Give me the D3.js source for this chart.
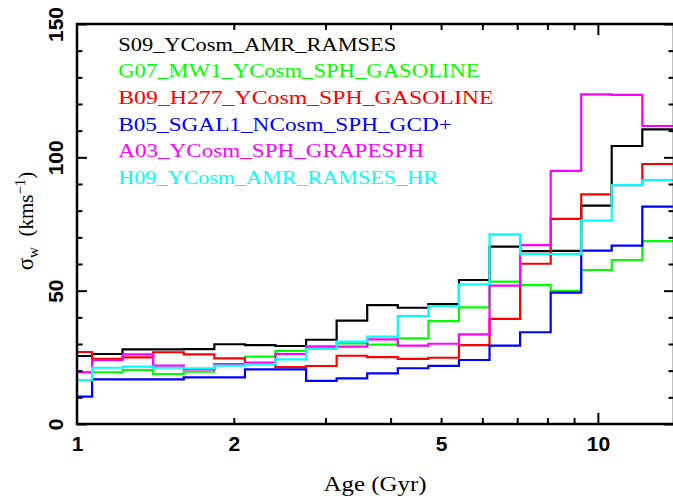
<!DOCTYPE html>
<html><head><meta charset="utf-8">
<script src="https://cdn.jsdelivr.net/npm/d3@7/dist/d3.min.js"></script>
<style>body{margin:0;background:#fff}svg{display:block}</style>
</head><body>
<svg id="c" width="673" height="500"></svg>
<script>
// Bin edges (Gyr), equal log-width bins
const edges = [0.934,1.069,1.223,1.400,1.603,1.835,2.101,2.404,2.753,3.151,3.607,4.129,4.727,5.411,6.194,7.091,8.117,9.290,10.63,12.17,13.93];

const seriesNames = ["S09_YCosm_AMR_RAMSES","G07_MW1_YCosm_SPH_GASOLINE","B09_H277_YCosm_SPH_GASOLINE","B05_SGAL1_NCosm_SPH_GCD+","A03_YCosm_SPH_GRAPESPH","H09_YCosm_AMR_RAMSES_HR"];
const seriesColors = ["#000000","#00ff00","#ff0000","#0000ff","#ff00ff","#00ffff"];

const s09 = [25.5,26.25,28.0,28.0,28.1,29.9,29.6,29.25,31.6,38.8,44.6,43.6,45.0,54.0,66.5,64.8,64.9,81.9,104.25,110.5];
const g07 = [19.4,19.4,20.25,18.75,19.6,22.3,25.25,27.4,29.0,30.25,29.8,32.1,38.6,43.75,53.4,52.1,49.9,57.75,61.5,68.6];
const b09 = [27.0,24.4,25.0,26.9,26.1,24.6,22.75,21.3,21.75,25.6,25.1,24.4,24.85,29.6,39.4,60.1,76.9,86.1,89.6,97.5];
const b05 = [10.25,16.75,16.75,16.75,17.5,17.5,20.5,20.5,16.2,17.1,19.0,20.9,21.8,24.0,29.4,34.4,49.25,65.0,66.9,81.5];
const a03 = [19.4,24.0,26.1,21.9,20.5,22.5,23.0,26.25,29.0,29.0,31.75,29.4,30.1,33.6,51.9,67.1,94.9,123.6,123.4,111.75];
const h09 = [16.5,21.1,21.5,21.1,20.9,21.9,22.4,24.25,28.2,30.9,32.75,40.5,44.25,52.4,71.1,63.75,63.75,76.25,89.6,91.5];
const seriesValues = [s09,g07,b09,b05,a03,h09];

const xTickLabels = [1,2,5,10];
const xMinorTicks = [2,3,4,5,6,7,8,9];
const xMajorTicks = [10];
const yTickLabels = [0,50,100,150];
const yMinorTicks = [10,20,30,40,60,70,80,90,110,120,130,140];
const legendY = [140,130,120,110,100,90];
const legendX = 1.2;

const m = {l:77, r:674, t:24, b:424};
const x = d3.scaleLog().domain([1,14]).range([m.l,m.r]);
const y = d3.scaleLinear().domain([0,150]).range([m.b,m.t]);
const svg = d3.select('#c');

svg.append('defs').append('clipPath').attr('id','clip')
  .append('rect').attr('x',m.l).attr('y',m.t).attr('width',m.r-m.l).attr('height',m.b-m.t);

// histograms
const line = d3.line().x(d=>x(d[0])).y(d=>y(d[1])).curve(d3.curveStepAfter);
seriesValues.forEach((vals,k)=>{
  const pts = vals.map((v,i)=>[edges[i],v]);
  pts.push([edges[vals.length], vals[vals.length-1]]);
  svg.append('path').attr('d',line(pts)).attr('fill','none')
    .attr('stroke',seriesColors[k]).attr('stroke-width',2.2)
    .attr('stroke-linejoin','miter').attr('clip-path','url(#clip)');
});

// ticks
function tickAxis(gen, pos, vals, size){
  const g = svg.append('g').attr('transform',pos)
    .call(gen.tickValues(vals).tickSize(-size).tickFormat(''));
  g.select('.domain').remove();
  g.selectAll('line').attr('stroke','#000').attr('stroke-width',2);
  return g;
}
tickAxis(d3.axisBottom(x), `translate(0,${m.b})`, xMinorTicks, 6);
tickAxis(d3.axisBottom(x), `translate(0,${m.b})`, xMajorTicks, 11);
tickAxis(d3.axisTop(x), `translate(0,${m.t})`, xMinorTicks, 6);
tickAxis(d3.axisTop(x), `translate(0,${m.t})`, xMajorTicks, 11);
tickAxis(d3.axisLeft(y), `translate(${m.l},0)`, yMinorTicks, 5.5);
tickAxis(d3.axisLeft(y), `translate(${m.l},0)`, yTickLabels, 10);
tickAxis(d3.axisRight(y), `translate(${m.r},0)`, yMinorTicks, 5.5);
tickAxis(d3.axisRight(y), `translate(${m.r},0)`, yTickLabels, 10);

// frame
svg.append('rect').attr('x',m.l).attr('y',m.t).attr('width',m.r-m.l).attr('height',m.b-m.t)
  .attr('fill','none').attr('stroke','#000').attr('stroke-width',2.5);

// tick labels
const lblFont = "'Liberation Sans', Arial, sans-serif";
const gx = svg.append('g').attr('transform',`translate(0,${m.b})`)
  .call(d3.axisBottom(x).tickValues(xTickLabels).tickSize(0).tickPadding(12).tickFormat(d3.format('d')));
gx.select('.domain').remove();
gx.selectAll('text').attr('font-family',lblFont).attr('font-weight','bold').attr('font-size',21).attr('fill','#000');

const gy = svg.append('g').attr('transform',`translate(${m.l},0)`)
  .call(d3.axisLeft(y).tickValues(yTickLabels).tickSize(0).tickFormat(d3.format('d')));
gy.select('.domain').remove();
gy.selectAll('text').attr('x',null).attr('dy',null).attr('y',null)
  .attr('transform','translate(-14,0) rotate(-90)').attr('text-anchor','middle')
  .attr('font-family',lblFont).attr('font-weight','bold').attr('font-size',21).attr('fill','#000');

// axis titles
const serif = "'Liberation Serif', 'Times New Roman', serif";
svg.append('text').attr('x',(m.l+673)/2).attr('y',491).attr('text-anchor','middle')
  .attr('font-family',serif).attr('font-size',20).attr('textLength',103).attr('lengthAdjust','spacingAndGlyphs')
  .text('Age (Gyr)');

const yt = svg.append('text').attr('transform','translate(33,221) rotate(-90)').attr('text-anchor','middle')
  .attr('font-family',serif).attr('font-size',21);
yt.append('tspan').attr('font-size',23).text('σ');
yt.append('tspan').attr('font-size',15).attr('dy',5).text('w');
yt.append('tspan').attr('dy',-5).text('\u00a0\u00a0(kms');
yt.append('tspan').attr('font-size',15).attr('dy',-8).text('−1');
yt.append('tspan').attr('dy',8).text(')');

// legend
seriesNames.forEach((n,k)=>{
  svg.append('text').attr('x',x(legendX)).attr('y',y(legendY[k]))
    .attr('font-family',serif).attr('font-size',19).attr('fill',seriesColors[k])
    .attr('textLength',n.length*13.9).attr('lengthAdjust','spacingAndGlyphs')
    .text(n);
});
</script>
</body></html>
